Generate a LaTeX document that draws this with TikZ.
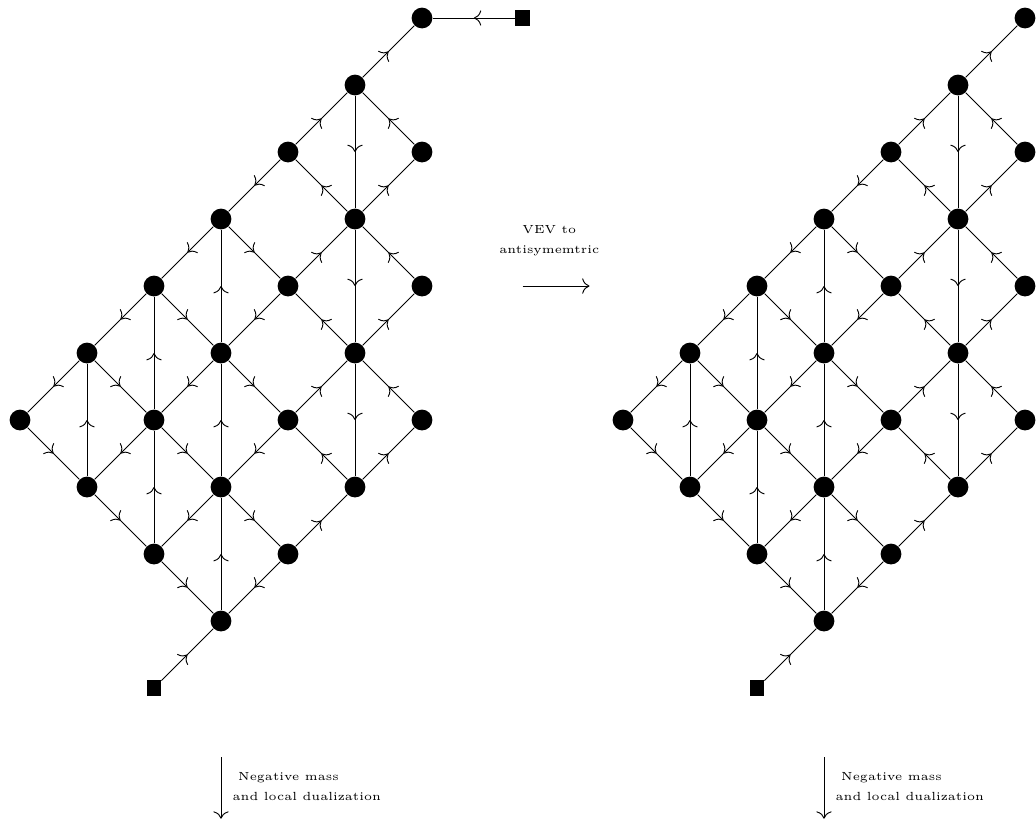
\documentclass[tikz,border=0pt]{standalone}
\usetikzlibrary{arrows, positioning}
\usetikzlibrary{arrows.meta}
\usetikzlibrary{decorations.markings}

% one quiver: gauge nodes on the lattice and their bifundamentals
\newcommand{\quiverlattice}{%
    \node[gauge] (n1) at (6,6) {};
    \node[gauge] (n2) at (5,5) {};
    \node[gauge] (n3) at (4,4) {};
    \node[gauge] (n4) at (6,4) {};
    \node[gauge] (n5) at (3,3) {};
    \node[gauge] (n6) at (5,3) {};
    \node[gauge] (n7) at (2,2) {};
    \node[gauge] (n8) at (4,2) {};
    \node[gauge] (n9) at (6,2) {};
    \node[gauge] (n10) at (1,1) {};
    \node[gauge] (n11) at (3,1) {};
    \node[gauge] (n12) at (5,1) {};
    \node[gauge] (n13) at (0,0) {};
    \node[gauge] (n14) at (2,0) {};
    \node[gauge] (n15) at (4,0) {};
    \node[gauge] (n16) at (6,0) {};
    \node[gauge] (n17) at (1,-1) {};
    \node[gauge] (n18) at (3,-1) {};
    \node[gauge] (n19) at (5,-1) {};
    \node[gauge] (n20) at (2,-2) {};
    \node[gauge] (n21) at (4,-2) {};
    \node[gauge] (n22) at (3,-3) {};
    \node[flavor] (f2) at (2,-4) {};

    \draw[bif] (n2) -- (n1);
    \draw[bif] (n3) -- (n2);
    \draw[bif] (n4) -- (n2);
    \draw[bif] (n2) -- (n6);
    \draw[bif] (n3) -- (n5);
    \draw[bif] (n6) -- (n3);
    \draw[bif] (n6) -- (n4);
    \draw[bif] (n5) -- (n7);
    \draw[bif] (n5) -- (n8);
    \draw[bif] (n11) -- (n5);
    \draw[bif] (n8) -- (n6);
    \draw[bif] (n9) -- (n6);
    \draw[bif] (n6) -- (n12);
    \draw[bif] (n7) -- (n10);
    \draw[bif] (n7) -- (n11);
    \draw[bif] (n14) -- (n7);
    \draw[bif] (n8) -- (n11);
    \draw[bif] (n12) -- (n8);
    \draw[bif] (n12) -- (n9);
    \draw[bif] (n10) -- (n13);
    \draw[bif] (n10) -- (n14);
    \draw[bif] (n17) -- (n10);
    \draw[bif] (n11) -- (n14);
    \draw[bif] (n11) -- (n15);
    \draw[bif] (n18) -- (n11);
    \draw[bif] (n15) -- (n12);
    \draw[bif] (n16) -- (n12);
    \draw[bif] (n12) -- (n19);
    \draw[bif] (n13) -- (n17);
    \draw[bif] (n14) -- (n17);
    \draw[bif] (n14) -- (n18);
    \draw[bif] (n20) -- (n14);
    \draw[bif] (n15) -- (n18);
    \draw[bif] (n19) -- (n15);
    \draw[bif] (n19) -- (n16);
    \draw[bif] (n17) -- (n20);
    \draw[bif] (n18) -- (n20);
    \draw[bif] (n18) -- (n21);
    \draw[bif] (n22) -- (n18);
    \draw[bif] (n21) -- (n19);
    \draw[bif] (n20) -- (n22);
    \draw[bif] (n21) -- (n22);
    \draw[bif] (f2) -- (n22);
}

\begin{document}
\begin{tikzpicture}[>={Computer Modern Rightarrow[scale=1.25]},
    gauge/.style={circle, fill=black, inner sep=0pt, minimum size=0.31cm},
    flavor/.style={rectangle, fill=black, inner sep=0pt, minimum width=0.21cm, minimum height=0.25cm},
    bif/.style={postaction={decorate}, decoration={markings, mark=at position 0.5 with {\arrow{>}}}}]
    \tikzstyle{lbl} = [font=\fontsize{5}{8.5}\selectfont]

    \useasboundingbox (-0.2985,-6.134) rectangle (15.164,6.269);

    \begin{scope}[name prefix=L-]
        \quiverlattice
        \node[flavor] (f1) at (7.5,6) {};
        \draw[bif] (f1) -- (n1);
    \end{scope}

    \begin{scope}[xshift=9cm, name prefix=R-]
        \quiverlattice
    \end{scope}

    \coordinate (vevstart) at (7.5,2);
    \coordinate (vevend) at (8.5,2);
    \draw[->] (vevstart) -- (vevend);
    \node[lbl, align=center] (vevtext) at (7.9,2.68) {VEV to\\antisymemtric};

    \coordinate (ldualtop) at (3,-5.03);
    \coordinate (ldualbot) at (3,-5.95);
    \draw[->] (ldualtop) -- (ldualbot);
    \node[lbl, align=left, anchor=west] (ldualtext) at (3.05,-5.47) {\ Negative mass\\and local dualization};

    \coordinate (rdualtop) at (12,-5.03);
    \coordinate (rdualbot) at (12,-5.95);
    \draw[->] (rdualtop) -- (rdualbot);
    \node[lbl, align=left, anchor=west] (rdualtext) at (12.05,-5.47) {\ Negative mass\\and local dualization};

\end{tikzpicture}
\end{document}
